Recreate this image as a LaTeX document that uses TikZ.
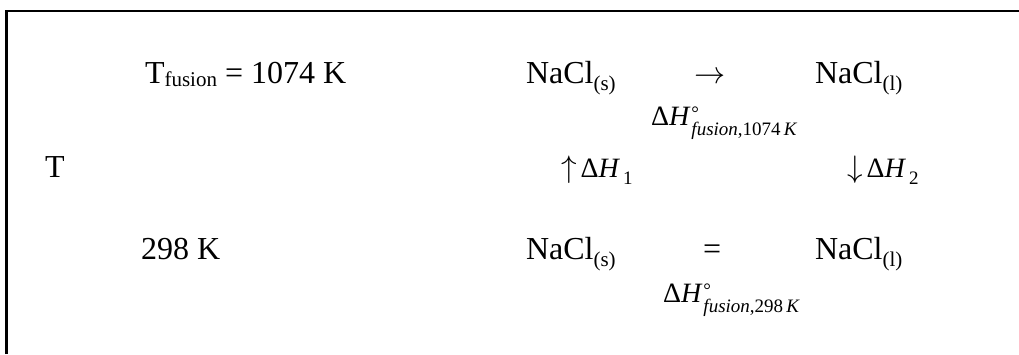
\documentclass[tikz,border=0pt]{standalone}
\usepackage{fontspec}
\setmainfont{Liberation Serif}
\usetikzlibrary{positioning}

\newcommand{\mainsz}{\fontsize{32}{38}\selectfont}
\newcommand{\subsz}{\fontsize{21}{24}\selectfont}
\newcommand{\idxsz}{\fontsize{19}{21}\selectfont}
\newcommand{\phase}[1]{\raisebox{-7pt}{\subsz(#1)}}
\newcommand{\bigarr}[1]{\scalebox{1.25}{$#1$}}
\newcommand{\dHsym}{{\fontsize{28}{32}\selectfont Δ\textit{H}}}
\newcommand{\dHstd}[1]{\dHsym\hspace{1pt}\rlap{\raisebox{6pt}{\idxsz °}}\raisebox{-10pt}{\idxsz\textit{fusion},#1\,\textit{K}}}
\newcommand{\dHn}[2]{{\mainsz\bigarr{#1}}\hspace{4pt}\dHsym\hspace{3pt}\raisebox{-7pt}{\idxsz #2}}

\tikzset{
  lbl/.style={anchor=base west, inner sep=0pt, outer sep=0pt, font=\mainsz},
  frame/.style={line width=2.2pt}
}

\begin{document}
\begin{tikzpicture}[x=1pt,y=1pt]
  \useasboundingbox (0,0) rectangle (1019,354);

  % Define the rows and columns
  \def\rowA{270}
  \def\rowB{177}
  \def\rowC{95}
  \def\colL{815}

  % Open frame (top and left side)
  \draw[frame] (6.5,0) -- (6.5,343) -- (1019,343);

  % Temperature labels
  \node[lbl] (tfus) at (145,\rowA) {T\raisebox{-3pt}{\subsz fusion} = 1074 K};
  \node[lbl] (tlab) at (45,\rowB) {T};
  \node[lbl] (tlow) at (141,\rowC) {298 K};

  % Fusion at 1074 K
  \node[lbl] (solA) at (526,\rowA) {NaCl\phase{s}};
  \node[lbl] (arrA) at (694,\rowA) {\bigarr{\rightarrow}};
  \node[lbl] (liqA) at (\colL,\rowA) {NaCl\phase{l}};
  \node[lbl] (dhA) at (651,229) {\dHstd{1074}};

  % Heating and cooling steps
  \node[lbl] (dhOne) at (561,\rowB) {\dHn{\uparrow}{1}};
  \node[lbl] (dhTwo) at (847,\rowB) {\dHn{\downarrow}{2}};

  % Fusion at 298 K
  \node[lbl] (solC) at (526,\rowC) {NaCl\phase{s}};
  \node[lbl] (eqC) at (703,\rowC) {=};
  \node[lbl] (liqC) at (\colL,\rowC) {NaCl\phase{l}};
  \node[lbl] (dhC) at (663,52) {\dHstd{298}};
\end{tikzpicture}
\end{document}
